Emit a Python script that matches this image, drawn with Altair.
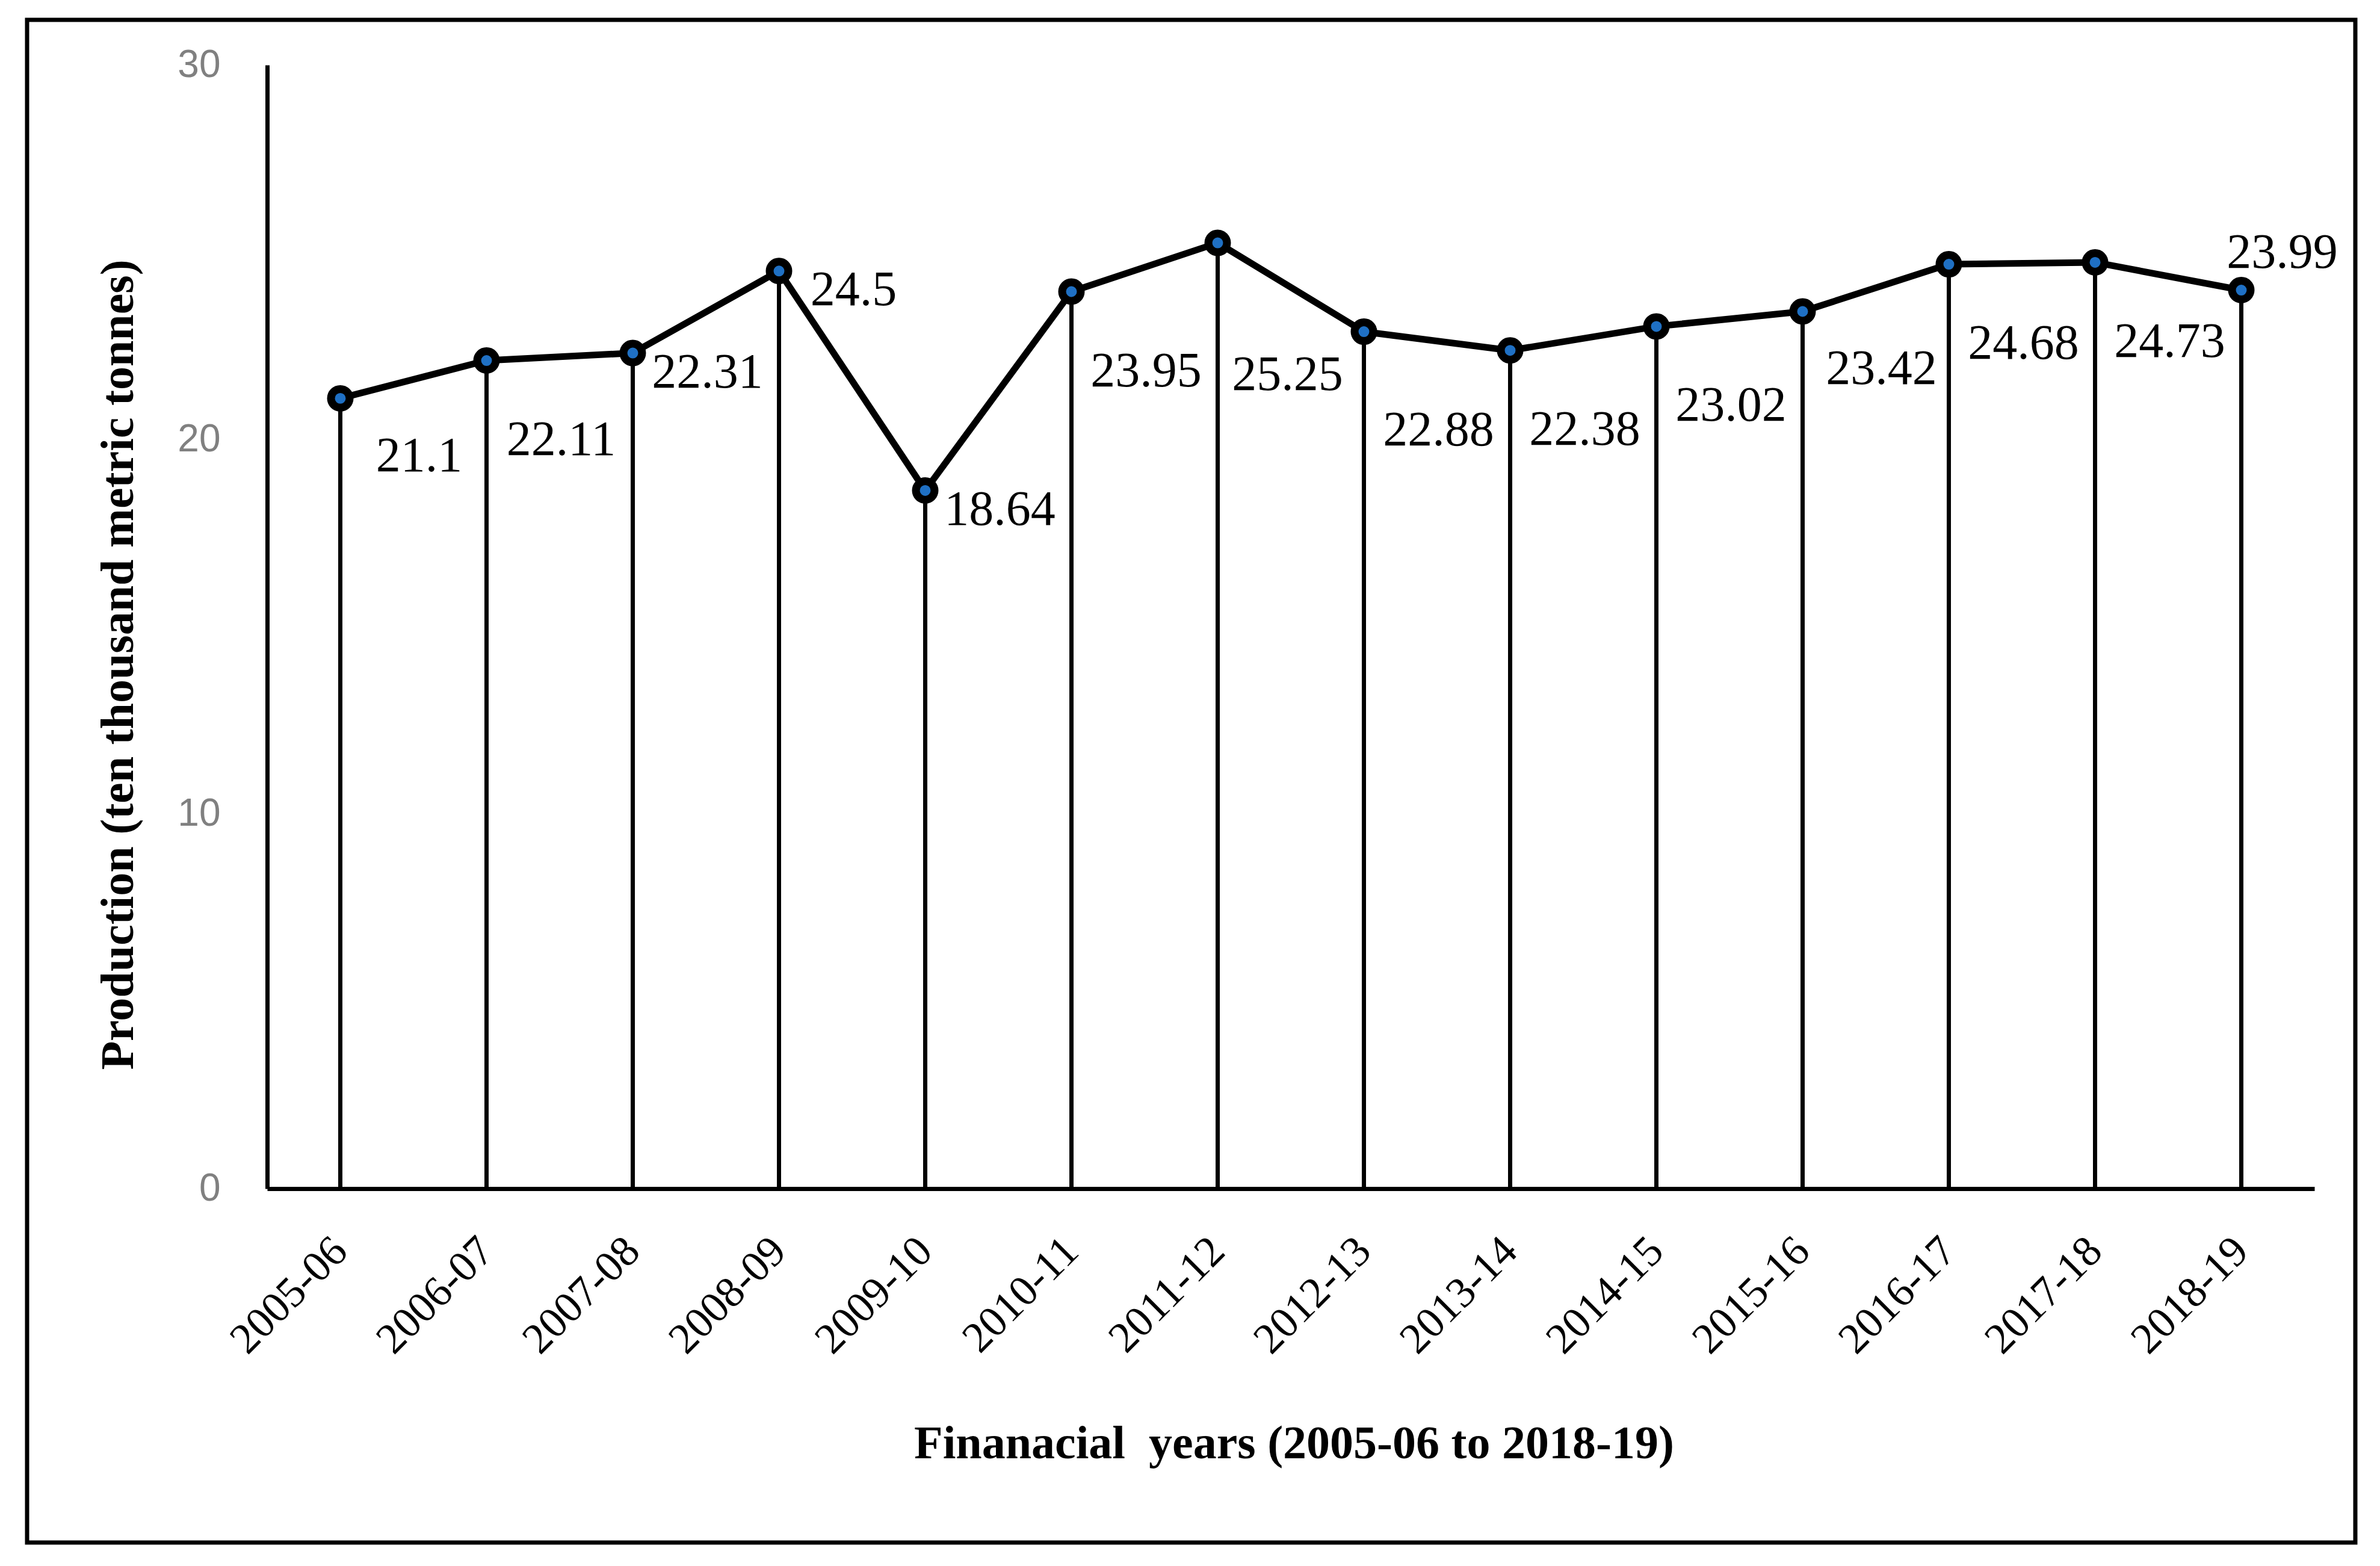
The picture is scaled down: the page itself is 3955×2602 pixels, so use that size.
import altair as alt
import pandas as pd

# ---- data ----
years = ["2005-06", "2006-07", "2007-08", "2008-09", "2009-10", "2010-11", "2011-12",
         "2012-13", "2013-14", "2014-15", "2015-16", "2016-17", "2017-18", "2018-19"]
production = [21.1, 22.11, 22.31, 24.5, 18.64, 23.95, 25.25,
              22.88, 22.38, 23.02, 23.42, 24.68, 24.73, 23.99]
# label placement (Excel-like data-label positions)
label_pos = ["near", "below", "right", "right", "right", "below", "lowest",
             "low", "below", "below", "near", "below", "below", "above"]
y_ticks = [0, 10, 20, 30]

df = pd.DataFrame({"year": years, "value": production, "pos": label_pos})

W, H = 3402, 1867
SERIF = "Liberation Serif"

x_enc = alt.X(
    "year:N", sort=years,
    axis=alt.Axis(
        title="Finanacial\u00a0 years (2005-06 to 2018-19)",
        titleFont=SERIF, titleFontSize=78, titleFontWeight="bold", titleColor="black",
        titleX=1706, titleY=447, titleAlign="center", titleBaseline="alphabetic",
        labelFont=SERIF, labelFontSize=72, labelColor="black", labelAngle=315,
        labelAlign="right", labelBaseline="middle", labelPadding=92, labelLimit=0,
        labelOverlap=False,
        ticks=False, tickSize=0, domainColor="black", domainWidth=7, grid=False,
    ),
)
y_enc = alt.Y(
    "value:Q", scale=alt.Scale(domain=[0, 30], nice=False, zero=True),
    axis=alt.Axis(
        values=y_ticks, title="Production (ten thousand metric tonnes)",
        titleFont=SERIF, titleFontSize=78, titleFontWeight="bold", titleColor="black",
        titleAngle=270, titleX=-224, titleY=996, titleAlign="center", titleBaseline="alphabetic",
        labelFont="Liberation Sans", labelFontSize=64, labelColor="#808080",
        labelPadding=78, ticks=False, tickSize=0, domainColor="black", domainWidth=7, grid=False,
    ),
)

base = alt.Chart(df)

rules = base.mark_rule(color="black", strokeWidth=7).encode(
    x=x_enc, y=y_enc, y2=alt.datum(0)
)
line = base.mark_line(color="black", strokeWidth=11, strokeJoin="round").encode(x=x_enc, y=y_enc)
points = base.mark_point(
    shape="circle", filled=True, fill="#1F70C4", stroke="black", strokeWidth=13,
    size=960, opacity=1, fillOpacity=1, strokeOpacity=1,
).encode(x=x_enc, y=y_enc)

offsets = {
    "right": (124, 32),
    "near": (131, 96),
    "below": (124, 132),
    "low": (124, 164),
    "lowest": (116, 219),
    "above": (68, -62),
}
label_layers = []
for name, (ddx, ddy) in offsets.items():
    label_layers.append(
        base.transform_filter(alt.datum.pos == name)
        .mark_text(font=SERIF, fontSize=82, color="black", align="center",
                   baseline="middle", dx=ddx, dy=ddy)
        .encode(x=x_enc, y=y_enc, text=alt.Text("value:Q"))
    )

frame = alt.Chart(pd.DataFrame({"f": [0]})).mark_rect(
    fillOpacity=0, stroke="black", strokeWidth=7
).encode(
    x=alt.value(-399), x2=alt.value(3470), y=alt.value(-75), y2=alt.value(2455)
)

chart = alt.layer(rules, line, points, *label_layers, frame).properties(
    width=W, height=H,
    autosize=alt.AutoSizeParams(type="none"),
    padding={"left": 436, "top": 100, "right": 101, "bottom": 619},
    background="white",
).configure_view(strokeWidth=0)

chart.save("out.html", embed_options={"renderer": "svg", "actions": False})
